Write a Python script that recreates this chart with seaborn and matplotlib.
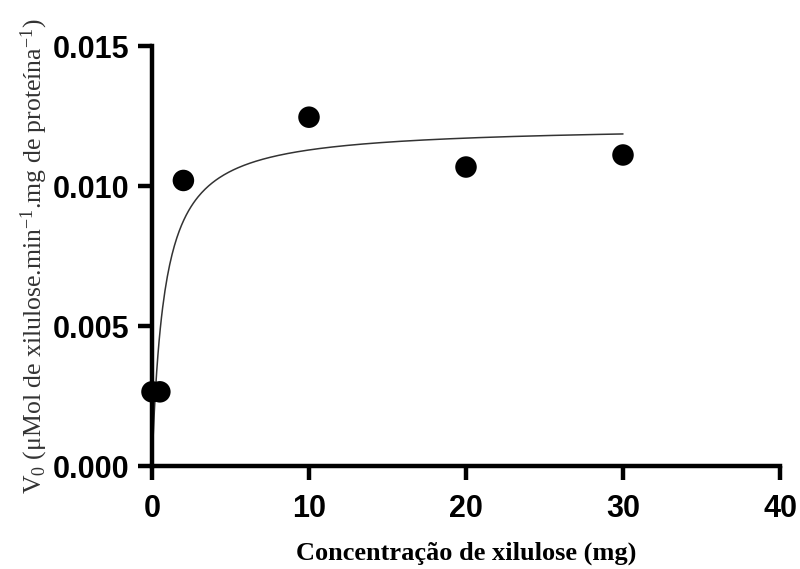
import numpy as np
import pandas as pd
import matplotlib
matplotlib.use("Agg")
import matplotlib.pyplot as plt
import seaborn as sns

conc = [0, 0.5, 2, 10, 20, 30]
v0 = [0.00265, 0.00265, 0.0102, 0.01246, 0.01068, 0.01111]

# parâmetros do ajuste Michaelis-Menten (estimados da curva)
vmax = 0.01217
km = 0.78

x_ticks = [0, 10, 20, 30, 40]
y_ticks = [0.000, 0.005, 0.010, 0.015]

sns.set_theme(style="ticks")
plt.rcParams['font.family'] = ['Liberation Sans', 'DejaVu Sans']
plt.rcParams['mathtext.fontset'] = 'custom'
plt.rcParams['mathtext.rm'] = 'Liberation Serif'
plt.rcParams['mathtext.it'] = 'Liberation Serif'

df = pd.DataFrame({'conc': conc, 'v0': v0})
xs = np.linspace(0, max(conc), 400)
fit = pd.DataFrame({'conc': xs, 'v0': vmax * xs / (km + xs)})

fig = plt.figure(figsize=(8, 5.69), dpi=100)
ax = fig.add_axes([0.19, 0.181, 0.785, 0.738])

sns.lineplot(data=fit, x='conc', y='v0', ax=ax, color='#333333', linewidth=1.1)
sns.scatterplot(data=df, x='conc', y='v0', ax=ax, color='black', s=240,
                edgecolor='none', clip_on=False, zorder=5)

ax.set_xlim(0, 40)
ax.set_ylim(0, 0.015)
ax.set_xticks(x_ticks)
ax.set_yticks(y_ticks)
ax.set_xticklabels([str(t) for t in x_ticks])
ax.set_yticklabels([f"{t:.3f}" for t in y_ticks])

for lab in ax.get_xticklabels() + ax.get_yticklabels():
    lab.set_fontweight('bold')
    lab.set_fontsize(22)
    lab.set_color('black')

sns.despine(ax=ax)
for s in ['left', 'bottom']:
    ax.spines[s].set_linewidth(3.2)
    ax.spines[s].set_color('black')
ax.tick_params(axis='both', length=10, width=3.2, color='black',
               direction='out')
ax.tick_params(axis='x', pad=10)
ax.tick_params(axis='y', pad=6)

ax.set_xlabel('Concentração de xilulose (mg)', fontsize=19, fontweight='bold',
              family='Liberation Serif', color='black', labelpad=13)
ax.set_ylabel(r'V$_0$ ($\mu$Mol de xilulose.min$^{-1}$.mg de proteína$^{-1}$)',
              fontsize=18.5, family='Liberation Serif', color='#333333',
              labelpad=2)

fig.savefig('out.png', dpi=100)
